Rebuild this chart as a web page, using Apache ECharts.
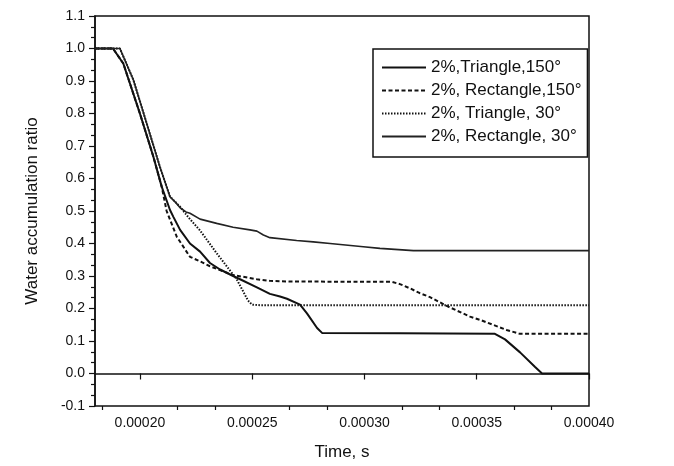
<!DOCTYPE html>
<html>
<head>
<meta charset="utf-8">
<script src="https://cdn.jsdelivr.net/npm/echarts@6/dist/echarts.min.js"></script>
<style>
html,body{margin:0;padding:0;background:#fff;}
#c{width:674px;height:466px;}
</style>
</head>
<body>
<div id="c"></div>
<script>
// ---- data ----
var seriesNames = ['2%,Triangle,150\u00B0', '2%, Rectangle,150\u00B0', '2%, Triangle, 30\u00B0', '2%, Rectangle, 30\u00B0'];

var tri150T = [0.000180,0.000188,0.0001926,0.000200,0.000206,0.0002097,0.0002134,0.0002149,0.0002179,0.0002223,0.0002268,0.0002312,0.0002357,0.0002415,0.0002446,0.0002521,0.0002579,0.0002624,0.0002655,0.0002713,0.0002744,0.0002789,0.0002811,0.0003158,0.0003581,0.0003626,0.0003693,0.0003760,0.0003791,0.000400];
var tri150V = [1.0,1.0,0.954,0.80,0.667,0.575,0.503,0.482,0.442,0.40,0.375,0.34,0.32,0.30,0.29,0.265,0.245,0.237,0.230,0.212,0.185,0.14,0.125,0.124,0.122,0.105,0.065,0.02,0.0,0.0];

var rect150T = [0.000180,0.000188,0.0001926,0.000200,0.000206,0.0002097,0.0002119,0.0002164,0.0002223,0.0002268,0.0002312,0.0002357,0.0002415,0.0002521,0.0002579,0.0002668,0.0003121,0.0003158,0.0003203,0.0003247,0.0003292,0.0003366,0.0003470,0.0003515,0.0003633,0.0003693,0.000400];
var rect150V = [1.0,1.0,0.954,0.80,0.667,0.575,0.50,0.421,0.359,0.345,0.33,0.318,0.303,0.29,0.285,0.283,0.282,0.275,0.262,0.247,0.235,0.208,0.175,0.165,0.134,0.122,0.122];

var tri30T = [0.000180,0.0001911,0.0001971,0.000203,0.0002089,0.0002134,0.0002179,0.0002205,0.0002223,0.0002268,0.0002342,0.0002431,0.0002481,0.0002499,0.0002535,0.000400];
var tri30V = [1.0,1.0,0.903,0.77,0.636,0.544,0.513,0.49,0.475,0.44,0.37,0.29,0.225,0.212,0.21,0.21];

var rect30T = [0.000180,0.0001911,0.0001971,0.000203,0.0002089,0.0002134,0.0002161,0.0002179,0.0002205,0.0002223,0.0002268,0.0002342,0.0002415,0.000249,0.0002521,0.000255,0.0002579,0.0002698,0.0002772,0.0002847,0.0002995,0.0003069,0.0003218,0.000400];
var rect30V = [1.0,1.0,0.903,0.77,0.636,0.544,0.525,0.51,0.497,0.493,0.475,0.462,0.45,0.442,0.438,0.426,0.418,0.409,0.405,0.40,0.39,0.385,0.378,0.378];

var xMajorTicks = [0.00020,0.00025,0.00030,0.00035,0.00040];
var xMinorTicks = [0.00018333,0.00021667,0.00023333,0.00026667,0.00028333,0.00031667,0.00033333,0.00036667,0.00038333];

function pairs(t, v){ var r=[]; for(var i=0;i<t.length;i++) r.push([t[i], v[i]]); return r; }

var FONT = 'Liberation Sans, Arial, sans-serif';
var chart = echarts.init(document.getElementById('c'), null, {renderer:'canvas'});
chart.setOption({
  backgroundColor:'#fff',
  animation:false,
  grid:{left:95,right:85,top:16,bottom:60,show:true,borderColor:'#111',borderWidth:1.5,backgroundColor:'transparent'},
  legend:{
    orient:'vertical', left:373, top:49,
    data:seriesNames,
    borderColor:'#111', borderWidth:1.5,
    padding:[10,6,12,8],
    itemWidth:44, itemHeight:14, itemGap:6,
    itemStyle:{opacity:0},
    textStyle:{fontFamily:FONT,fontSize:17,color:'#111'}
  },
  xAxis:[{
    type:'value', min:0.00018, max:0.0004,
    name:'Time, s', nameLocation:'middle', nameGap:38,
    nameTextStyle:{fontFamily:FONT,fontSize:17,color:'#111'},
    axisLine:{lineStyle:{color:'#111',width:1.5}},
    axisTick:{show:true,length:6,customValues:xMajorTicks,lineStyle:{color:'#111',width:1.2}},
    axisLabel:{customValues:xMajorTicks,margin:10,fontFamily:FONT,fontSize:14,color:'#111',
      formatter:function(v){return v.toFixed(5);}},
    splitLine:{show:false}
  },{
    type:'value', min:0.00018, max:0.0004, position:'bottom', offset:0,
    axisLine:{show:false},
    axisTick:{show:true,length:4,customValues:xMinorTicks,lineStyle:{color:'#111',width:1.2}},
    axisLabel:{show:false},
    splitLine:{show:false}
  }],
  yAxis:{
    type:'value', min:-0.1, max:1.1, interval:0.1,
    name:'Water accumulation ratio', nameLocation:'middle', nameGap:54, nameRotate:90,
    nameTextStyle:{fontFamily:FONT,fontSize:17,color:'#111'},
    axisLine:{lineStyle:{color:'#111',width:1.5}},
    axisTick:{length:6,lineStyle:{color:'#111',width:1.2}},
    minorTick:{show:true,splitNumber:3,length:4,lineStyle:{color:'#111',width:1.2}},
    axisLabel:{margin:10,fontFamily:FONT,fontSize:14,color:'#111',
      formatter:function(v){return (Math.round(v*10)/10).toFixed(1);}},
    splitLine:{show:false}
  },
  series:[
    {name:seriesNames[0],type:'line',xAxisIndex:0,symbol:'none',data:pairs(tri150T,tri150V),
      lineStyle:{color:'#111',width:2,type:'solid'},itemStyle:{color:'#111'}},
    {name:seriesNames[1],type:'line',xAxisIndex:0,symbol:'none',data:pairs(rect150T,rect150V),
      lineStyle:{color:'#111',width:2,type:[4,2.5]},itemStyle:{color:'#111'}},
    {name:seriesNames[2],type:'line',xAxisIndex:0,symbol:'none',data:pairs(tri30T,tri30V),
      lineStyle:{color:'#111',width:2,type:[1.5,1.5]},itemStyle:{color:'#111'}},
    {name:seriesNames[3],type:'line',xAxisIndex:0,symbol:'none',data:pairs(rect30T,rect30V),
      lineStyle:{color:'#222',width:1.6,type:'solid'},itemStyle:{color:'#222'}}
  ]
});
</script>
</body>
</html>
